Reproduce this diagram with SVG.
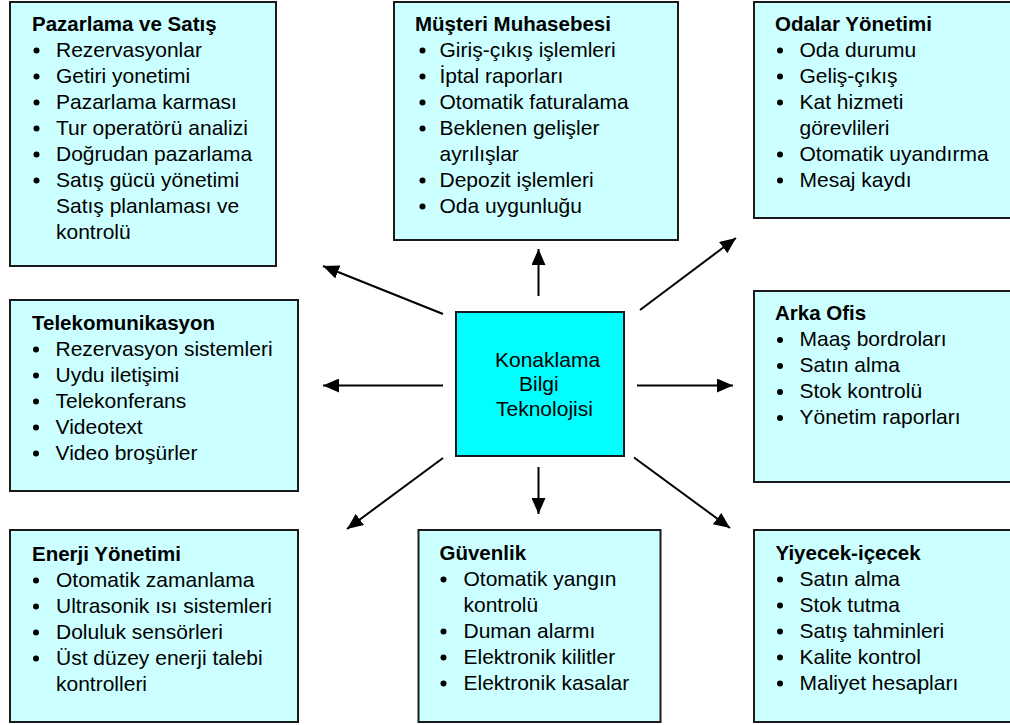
<svg xmlns="http://www.w3.org/2000/svg" width="1010" height="725" viewBox="0 0 1010 725">
<style>
.box{fill:#CCFFFF;stroke:#1a1a1a;stroke-width:2}
.center{fill:#00FFFF;stroke:#1a1a1a;stroke-width:2}
text{font-family:"Liberation Sans",Arial,sans-serif;font-size:21px;fill:#000}
.t{font-weight:bold;font-size:20.5px}
.b{fill:#000}
.c{stroke:#000;stroke-width:2;fill:none;marker-end:url(#ah)}
</style>
<defs>
<marker id="ah" markerUnits="userSpaceOnUse" markerWidth="16" markerHeight="14" refX="16" refY="7" orient="auto">
<path d="M0,0 L16,7 L0,14 Z" fill="#000"/>
</marker>
</defs>
<rect width="1010" height="725" fill="#fff"/>

<g id="connectors">
<line class="c" x1="538.5" y1="296" x2="538.5" y2="249"/>
<line class="c" x1="538.5" y1="467" x2="538.5" y2="514"/>
<line class="c" x1="443" y1="314" x2="323" y2="266"/>
<line class="c" x1="443" y1="385.5" x2="323" y2="385.5"/>
<line class="c" x1="443" y1="458" x2="347" y2="529"/>
<line class="c" x1="640" y1="310" x2="736" y2="238"/>
<line class="c" x1="637" y1="385.5" x2="733" y2="385.5"/>
<line class="c" x1="634" y1="457.5" x2="730" y2="528"/>
</g>

<g id="center">
<rect class="center" x="456" y="312" width="168" height="144"/>
<text x="495" y="367">Konaklama</text>
<text x="519" y="391">Bilgi</text>
<text x="496" y="415.5">Teknolojisi</text>
</g>

<g id="pazarlama">
<rect class="box" x="10" y="2" width="266" height="264"/>
<text class="t" x="32" y="30.5">Pazarlama ve Satış</text>
<circle class="b" cx="36.5" cy="50.5" r="3"/><text x="56" y="56.5">Rezervasyonlar</text>
<circle class="b" cx="36.5" cy="76.5" r="3"/><text x="56" y="82.5">Getiri yonetimi</text>
<circle class="b" cx="36.5" cy="102.5" r="3"/><text x="56" y="108.5">Pazarlama karması</text>
<circle class="b" cx="36.5" cy="128.5" r="3"/><text x="56" y="134.5">Tur operatörü analizi</text>
<circle class="b" cx="36.5" cy="154.5" r="3"/><text x="56" y="160.5">Doğrudan pazarlama</text>
<circle class="b" cx="36.5" cy="180.5" r="3"/><text x="56" y="186.5">Satış gücü yönetimi</text>
<text x="56" y="212.5">Satış planlaması ve</text>
<text x="56" y="238.5">kontrolü</text>
</g>

<g id="musteri">
<rect class="box" x="394" y="2" width="284" height="238"/>
<text class="t" x="415" y="30.5">Müşteri Muhasebesi</text>
<circle class="b" cx="422.5" cy="50.5" r="3"/><text x="439.5" y="56.5">Giriş-çıkış işlemleri</text>
<circle class="b" cx="422.5" cy="76.5" r="3"/><text x="439.5" y="82.5">İptal raporları</text>
<circle class="b" cx="422.5" cy="102.5" r="3"/><text x="439.5" y="108.5">Otomatik faturalama</text>
<circle class="b" cx="422.5" cy="128.5" r="3"/><text x="439.5" y="134.5">Beklenen gelişler</text>
<text x="439.5" y="160.5">ayrılışlar</text>
<circle class="b" cx="422.5" cy="180.5" r="3"/><text x="439.5" y="186.5">Depozit işlemleri</text>
<circle class="b" cx="422.5" cy="206.5" r="3"/><text x="439.5" y="212.5">Oda uygunluğu</text>
</g>

<g id="odalar">
<rect class="box" x="754" y="2" width="262" height="216"/>
<text class="t" x="775" y="30.5">Odalar Yönetimi</text>
<circle class="b" cx="780" cy="50.5" r="3"/><text x="799.5" y="56.5">Oda durumu</text>
<circle class="b" cx="780" cy="76.5" r="3"/><text x="799.5" y="82.5">Geliş-çıkış</text>
<circle class="b" cx="780" cy="102.5" r="3"/><text x="799.5" y="108.5">Kat hizmeti</text>
<text x="799.5" y="134.5">görevlileri</text>
<circle class="b" cx="780" cy="154.5" r="3"/><text x="799.5" y="160.5">Otomatik uyandırma</text>
<circle class="b" cx="780" cy="180.5" r="3"/><text x="799.5" y="186.5">Mesaj kaydı</text>
</g>

<g id="telekom">
<rect class="box" x="10" y="300" width="288" height="191"/>
<text class="t" x="32" y="329.5">Telekomunikasyon</text>
<circle class="b" cx="36" cy="349.5" r="3"/><text x="55.5" y="355.5">Rezervasyon sistemleri</text>
<circle class="b" cx="36" cy="375.5" r="3"/><text x="55.5" y="381.5">Uydu iletişimi</text>
<circle class="b" cx="36" cy="401.5" r="3"/><text x="55.5" y="407.5">Telekonferans</text>
<circle class="b" cx="36" cy="427.5" r="3"/><text x="55.5" y="433.5">Videotext</text>
<circle class="b" cx="36" cy="453.5" r="3"/><text x="55.5" y="459.5">Video broşürler</text>
</g>

<g id="arkaofis">
<rect class="box" x="754" y="291" width="262" height="191"/>
<text class="t" x="775" y="320">Arka Ofis</text>
<circle class="b" cx="780" cy="340" r="3"/><text x="799.5" y="346">Maaş bordroları</text>
<circle class="b" cx="780" cy="366" r="3"/><text x="799.5" y="372">Satın alma</text>
<circle class="b" cx="780" cy="392" r="3"/><text x="799.5" y="398">Stok kontrolü</text>
<circle class="b" cx="780" cy="418" r="3"/><text x="799.5" y="424">Yönetim raporları</text>
</g>

<g id="enerji">
<rect class="box" x="10" y="530" width="288" height="192"/>
<text class="t" x="32" y="560.5">Enerji Yönetimi</text>
<circle class="b" cx="36" cy="580.5" r="3"/><text x="56" y="586.5">Otomatik zamanlama</text>
<circle class="b" cx="36" cy="606.5" r="3"/><text x="56" y="612.5">Ultrasonik ısı sistemleri</text>
<circle class="b" cx="36" cy="632.5" r="3"/><text x="56" y="638.5">Doluluk sensörleri</text>
<circle class="b" cx="36" cy="658.5" r="3"/><text x="56" y="664.5">Üst düzey enerji talebi</text>
<text x="56" y="690.5">kontrolleri</text>
</g>

<g id="guvenlik">
<rect class="box" x="418.5" y="530" width="242" height="192"/>
<text class="t" x="439.5" y="559.5">Güvenlik</text>
<circle class="b" cx="443.5" cy="579.5" r="3"/><text x="463.5" y="585.5">Otomatik yangın</text>
<text x="463.5" y="611.5">kontrolü</text>
<circle class="b" cx="443.5" cy="631.5" r="3"/><text x="463.5" y="637.5">Duman alarmı</text>
<circle class="b" cx="443.5" cy="657.5" r="3"/><text x="463.5" y="663.5">Elektronik kilitler</text>
<circle class="b" cx="443.5" cy="683.5" r="3"/><text x="463.5" y="689.5">Elektronik kasalar</text>
</g>

<g id="yiyecek">
<rect class="box" x="754" y="530" width="262" height="192"/>
<text class="t" x="775.5" y="559.5">Yiyecek-içecek</text>
<circle class="b" cx="780" cy="579.5" r="3"/><text x="799.5" y="585.5">Satın alma</text>
<circle class="b" cx="780" cy="605.5" r="3"/><text x="799.5" y="611.5">Stok tutma</text>
<circle class="b" cx="780" cy="631.5" r="3"/><text x="799.5" y="637.5">Satış tahminleri</text>
<circle class="b" cx="780" cy="657.5" r="3"/><text x="799.5" y="663.5">Kalite kontrol</text>
<circle class="b" cx="780" cy="683.5" r="3"/><text x="799.5" y="689.5">Maliyet hesapları</text>
</g>
</svg>
